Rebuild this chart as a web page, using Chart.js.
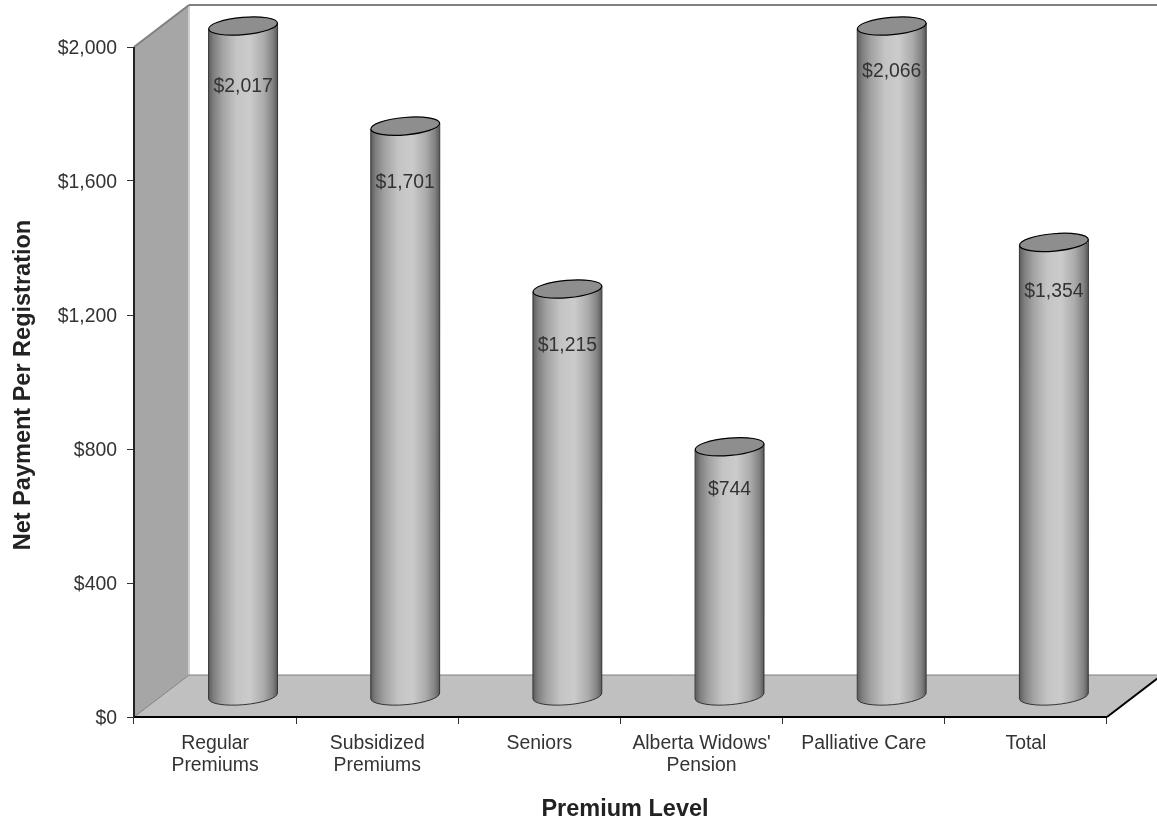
<!DOCTYPE html>
<html><head><meta charset="utf-8">
<style>html,body{margin:0;padding:0;background:#fff}#w{width:1157px;height:819px}canvas{display:block}</style>
<script src="https://cdn.jsdelivr.net/npm/chart.js@4"></script>
</head><body><div id="w"><canvas id="c" width="1157" height="819"></canvas></div>
<script>
const categories = [["Regular","Premiums"],["Subsidized","Premiums"],["Seniors"],["Alberta Widows'","Pension"],["Palliative Care"],["Total"]];
const netPayment = [2017,1701,1215,744,2066,1354];
const yTicks = [0,400,800,1200,1600,2000];
const valueLabels = ["$2,017","$1,701","$1,215","$744","$2,066","$1,354"];
const labelDrop = [61,56.5,57,43,46,49];
const FONT = '"Liberation Sans", Arial, sans-serif';
const DEPTH_X = 55, DEPTH_Y = 42, BAR_SHIFT_X = 28, RY = 8.7, TILT = -0.087;
const BODY_STOPS = [[0,'#5c5c5c'],[0.07,'#7e7e7e'],[0.2,'#a2a2a2'],[0.4,'#c4c4c4'],[0.6,'#cbcbcb'],[0.8,'#ababab'],[0.93,'#828282'],[1,'#585858']];

function bodyGradient(ctx, cx, w){
  const g = ctx.createLinearGradient(cx-w/2,0,cx+w/2,0);
  BODY_STOPS.forEach(s=>g.addColorStop(s[0],s[1]));
  return g;
}
function poly(ctx, pts, fill){
  ctx.beginPath(); pts.forEach((p,i)=>i?ctx.lineTo(p[0],p[1]):ctx.moveTo(p[0],p[1])); ctx.closePath();
  ctx.fillStyle=fill; ctx.fill();
}
function line(ctx,a,b,color,w){ctx.beginPath();ctx.moveTo(a[0],a[1]);ctx.lineTo(b[0],b[1]);ctx.strokeStyle=color;ctx.lineWidth=w;ctx.stroke();}

function geo(chart, bar, value){
  const y = chart.scales.y;
  const top = y.getPixelForValue(Math.min(value, y.max));
  const bot = y.getPixelForValue(0);
  const rx = bar.width/2;
  return {cx:bar.x, rx, top, bot, dy:Math.sin(-TILT)*rx};
}
function cylinderPath(ctx,g){
  ctx.moveTo(g.cx-g.rx, g.top+g.dy);
  ctx.lineTo(g.cx+g.rx, g.top-g.dy);
  ctx.lineTo(g.cx+g.rx, g.bot-g.dy);
  ctx.ellipse(g.cx,g.bot,g.rx,RY,TILT,0,Math.PI,false);
  ctx.closePath();
}
const cylinders = {
  id:'cylinders',
  beforeDraw(chart){
    const {ctx,chartArea:a}=chart;
    const L=a.left,R=a.right,T=a.top,B=a.bottom;
    ctx.save();
    ctx.fillStyle='#fff';ctx.fillRect(0,0,chart.width,chart.height);
    poly(ctx,[[L,T],[L+DEPTH_X,T-DEPTH_Y],[L+DEPTH_X,B-DEPTH_Y],[L,B]],'#a6a6a6');
    poly(ctx,[[L,B],[L+DEPTH_X,B-DEPTH_Y],[R+DEPTH_X,B-DEPTH_Y],[R,B]],'#c0c0c0');
    line(ctx,[L+DEPTH_X,T-DEPTH_Y],[L+DEPTH_X,B-DEPTH_Y],'#d0d0d0',2);
    line(ctx,[L,T],[L+DEPTH_X,T-DEPTH_Y],'#808080',2);
    line(ctx,[L+DEPTH_X,T-DEPTH_Y],[R+DEPTH_X,T-DEPTH_Y],'#808080',2);
    line(ctx,[L,B],[L+DEPTH_X,B-DEPTH_Y],'#808080',1);
    line(ctx,[L+DEPTH_X,B-DEPTH_Y],[R+DEPTH_X,B-DEPTH_Y],'#808080',1);
    line(ctx,[R,B],[R+DEPTH_X,B-DEPTH_Y],'#000',2);
    ctx.restore();
  },
  beforeDatasetDraw(chart,args){
    const {ctx}=chart;
    const data=chart.data.datasets[args.index].data;
    ctx.save();
    ctx.translate(BAR_SHIFT_X,-DEPTH_Y/2);
    ctx.beginPath();
    args.meta.data.forEach((bar,i)=>cylinderPath(ctx,geo(chart,bar,data[i])));
    ctx.clip();
  },
  afterDatasetDraw(chart,args){
    const {ctx}=chart;
    const data=chart.data.datasets[args.index].data;
    ctx.restore();
    ctx.save();
    ctx.translate(BAR_SHIFT_X,-DEPTH_Y/2);
    args.meta.data.forEach((bar,i)=>{
      const g=geo(chart,bar,data[i]);
      ctx.strokeStyle='#333';ctx.lineWidth=1;
      ctx.beginPath();
      ctx.moveTo(g.cx-g.rx,g.top+g.dy);ctx.lineTo(g.cx-g.rx,g.bot+g.dy);
      ctx.ellipse(g.cx,g.bot,g.rx,RY,TILT,Math.PI,0,true);
      ctx.lineTo(g.cx+g.rx,g.top-g.dy);
      ctx.stroke();
      ctx.beginPath();ctx.ellipse(g.cx,g.top,g.rx,RY,TILT,0,Math.PI*2);
      ctx.fillStyle='#8e8e8e';ctx.fill();
      ctx.strokeStyle='#000';ctx.lineWidth=1.2;ctx.stroke();
      ctx.fillStyle='#333';ctx.font='19.4px '+FONT;ctx.textAlign='center';ctx.textBaseline='middle';
      ctx.fillText(valueLabels[i],g.cx,g.top+labelDrop[i]);
    });
    ctx.restore();
  },
  afterDraw(chart){
    const {ctx,chartArea:a}=chart;
    ctx.save();
    line(ctx,[a.left,a.bottom],[a.right,a.bottom],'#000',2);
    line(ctx,[a.left,a.top],[a.left,a.bottom],'#222',2);
    ctx.fillStyle='#222';ctx.font='bold 23.5px '+FONT;ctx.textAlign='center';ctx.textBaseline='alphabetic';
    ctx.fillText('Premium Level',625,816);
    ctx.translate(30,385);ctx.rotate(-Math.PI/2);
    ctx.fillText('Net Payment Per Registration',0,0);
    ctx.restore();
  }
};
new Chart(document.getElementById('c'),{
  type:'bar',
  data:{labels:categories,datasets:[{
    data:netPayment,
    base:-40,
    clip:false,
    backgroundColor:(c)=>{
      const chart=c.chart, x=chart.scales.x;
      if(!chart.chartArea||!x) return '#bbb';
      const w=(chart.chartArea.width/categories.length)*0.4254;
      return bodyGradient(chart.ctx,x.getPixelForValue(c.dataIndex),w);
    },
    borderWidth:0,
    barPercentage:1,
    categoryPercentage:0.4254
  }]},
  options:{
    responsive:false,animation:false,
    layout:{padding:{top:47,right:50,bottom:0,left:0}},
    plugins:{legend:{display:false},tooltip:{enabled:false}},
    scales:{
      x:{
        afterFit(s){s.height=102;},
        grid:{display:true,drawOnChartArea:false,drawTicks:true,tickLength:7,color:'#333',offset:true},
        border:{display:false},
        ticks:{color:'#333',font:{family:FONT,size:19.4,lineHeight:1.16},padding:8,maxRotation:0,minRotation:0,autoSkip:false},
        title:{display:false}
      },
      y:{
        min:0,max:2000,
        afterFit(s){s.width=134;},
        afterBuildTicks(s){s.ticks=yTicks.map(v=>({value:v}));},
        grid:{display:true,drawOnChartArea:false,drawTicks:true,tickLength:7,color:'#333'},
        border:{display:false},
        ticks:{color:'#333',font:{family:FONT,size:19.4},padding:10,labelOffset:1.5,callback:v=>'$'+v.toLocaleString('en-US')},
        title:{display:false}
      }
    }
  },
  plugins:[cylinders]
});
</script></body></html>
